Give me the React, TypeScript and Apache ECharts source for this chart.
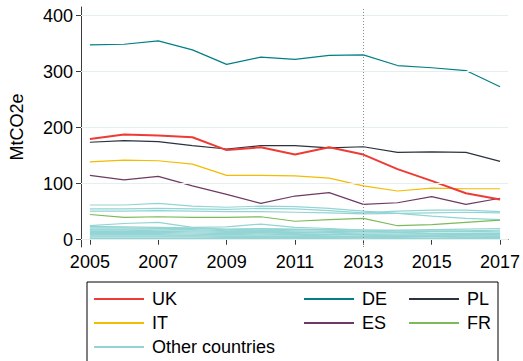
import React, { useEffect, useRef } from "react";
import * as echarts from "echarts";

// Annual emissions, MtCO2e
const years = [2005, 2006, 2007, 2008, 2009, 2010, 2011, 2012, 2013, 2014, 2015, 2016, 2017];
const xTickLabels = [2005, 2007, 2009, 2011, 2013, 2015, 2017];
const yTickLabels = [0, 100, 200, 300, 400];
const markerYear = 2013;

const ukValues = [180, 188, 186, 183, 160, 165, 152, 165, 152, 126, 105, 83, 72];
const deValues = [348, 349, 355, 339, 313, 326, 322, 329, 330, 311, 307, 302, 273];
const plValues = [174, 177, 175, 168, 162, 168, 168, 164, 166, 156, 157, 156, 140];
const itValues = [139, 142, 141, 135, 115, 115, 114, 110, 96, 87, 92, 91, 91];
const esValues = [115, 107, 113, 96, 81, 65, 78, 84, 63, 66, 77, 63, 74];
const frValues = [45, 40, 41, 40, 40, 41, 33, 36, 38, 25, 27, 31, 35];

const otherCountries: number[][] = [
  [62, 62, 65, 60, 58, 60, 59, 56, 51, 47, 42, 38, 36],
  [55, 55, 56, 55, 54, 56, 55, 52, 48, 51, 53, 53, 50],
  [51, 51, 52, 51, 50, 50, 49, 48, 46, 47, 48, 49, 48],
  [25, 29, 31, 22, 23, 28, 22, 20, 17, 17, 18, 19, 20],
  [24, 23, 22, 21, 19, 20, 19, 18, 17, 16, 16, 16, 17],
  [21, 21, 20, 20, 18, 19, 18, 17, 15, 14, 15, 15, 14],
  [19, 19, 19, 18, 16, 17, 16, 15, 14, 13, 12, 12, 12],
  [17, 17, 16, 16, 15, 15, 14, 13, 12, 12, 11, 11, 11],
  [15, 15, 15, 14, 13, 13, 13, 12, 10, 10, 10, 9, 9],
  [13, 13, 13, 12, 11, 12, 11, 10, 9, 8, 8, 8, 8],
  [11, 11, 11, 10, 9, 10, 9, 9, 8, 7, 7, 7, 6],
  [9, 9, 9, 8, 8, 8, 8, 7, 6, 6, 6, 5, 5],
  [7, 7, 7, 7, 6, 6, 6, 6, 5, 5, 5, 4, 4],
  [5, 5, 5, 5, 4, 4, 4, 4, 4, 4, 3, 3, 3],
  [3, 3, 3, 3, 3, 3, 3, 3, 3, 2, 2, 2, 2],
  [2, 2, 2, 2, 2, 2, 2, 2, 1, 1, 1, 1, 1],
];

const FONT = "'Liberation Sans', Arial, Helvetica, sans-serif";

const pairs = (vals: number[]) => years.map((y, i) => [y, vals[i]]);

const lineSeries = (name: string, vals: number[], color: string, width: number, z: number) => ({
  type: "line",
  name,
  data: pairs(vals),
  symbol: "none",
  showSymbol: false,
  z,
  lineStyle: { color, width },
  itemStyle: { color },
  emphasis: { disabled: true },
});

export default function App() {
  const ref = useRef<HTMLDivElement>(null);

  useEffect(() => {
    document.body.style.margin = "0";
    if (!ref.current) return;
    const chart = echarts.init(ref.current, undefined, { renderer: "svg" });

    const legendText = {
      fontSize: 18,
      fontFamily: FONT,
      color: "#000",
      lineHeight: 18,
      padding: [0, 0, 0, 3],
    };
    const legendBase = {
      orient: "vertical",
      top: 290,
      itemWidth: 50,
      itemHeight: 14,
      itemGap: 6,
      padding: 0,
      selectedMode: false,
      itemStyle: { opacity: 0 },
      textStyle: legendText,
    };

    const series: any[] = [
      {
        type: "line",
        name: "__grid",
        data: [],
        z: 1,
        silent: true,
        markLine: {
          silent: true,
          symbol: ["none", "none"],
          label: { show: false },
          lineStyle: { color: "#e6eff0", width: 1, type: "solid" },
          data: yTickLabels.map((v) => ({ yAxis: v })),
        },
      },
      ...otherCountries.map((vals) => lineSeries("Other countries", vals, "#93d4d4", 1.2, 2)),
      lineSeries("FR", frValues, "#7cba5a", 1.2, 3),
      lineSeries("ES", esValues, "#6e3a63", 1.2, 3),
      lineSeries("IT", itValues, "#f2bc00", 1.2, 3),
      lineSeries("PL", plValues, "#2b3340", 1.2, 3),
      lineSeries("DE", deValues, "#007f86", 1.2, 3),
      lineSeries("UK", ukValues, "#ee3b33", 2, 4),
      {
        type: "line",
        name: "__marker",
        data: [],
        z: 5,
        silent: true,
        markLine: {
          silent: true,
          symbol: ["none", "none"],
          label: { show: false },
          lineStyle: { color: "#8c8c8c", width: 1, type: [1, 2] },
          data: [{ xAxis: markerYear }],
        },
      },
    ];

    chart.setOption({
      animation: false,
      backgroundColor: "#fff",
      grid: { left: 75, right: 13, top: 7, bottom: 114, containLabel: false },
      xAxis: {
        type: "value",
        min: 2004.74,
        max: 2017.24,
        axisLine: { show: true, lineStyle: { color: "#3a3a3a", width: 1 } },
        axisTick: { show: true, length: 5, customValues: xTickLabels, lineStyle: { color: "#3a3a3a" } },
        axisLabel: {
          customValues: xTickLabels,
          fontSize: 18,
          fontFamily: FONT,
          color: "#000",
          margin: 6,
          formatter: (v: number) => String(v),
        },
        splitLine: { show: false },
      },
      yAxis: {
        type: "value",
        min: -13,
        max: 415.5,
        name: "MtCO2e",
        nameLocation: "middle",
        nameGap: 55,
        nameTextStyle: { fontSize: 18, fontFamily: FONT, color: "#000" },
        axisLine: { show: true, lineStyle: { color: "#3a3a3a", width: 1 } },
        axisTick: { show: true, length: 5, customValues: yTickLabels, lineStyle: { color: "#3a3a3a" } },
        axisLabel: {
          customValues: yTickLabels,
          fontSize: 18,
          fontFamily: FONT,
          color: "#000",
          margin: 8,
        },
        splitLine: { show: false },
      },
      legend: [
        { ...legendBase, left: 93, data: ["UK", "IT", "Other countries"] },
        { ...legendBase, left: 303, data: ["DE", "ES"] },
        { ...legendBase, left: 408, data: ["PL", "FR"] },
      ],
      graphic: [
        {
          type: "rect",
          shape: { x: 87, y: 282, width: 411, height: 120 },
          style: { fill: "none", stroke: "#000", lineWidth: 1 },
          silent: true,
          z: 0,
        },
      ],
      series,
    });

    return () => chart.dispose();
  }, []);

  return <div ref={ref} style={{ width: 523, height: 361 }} />;
}
